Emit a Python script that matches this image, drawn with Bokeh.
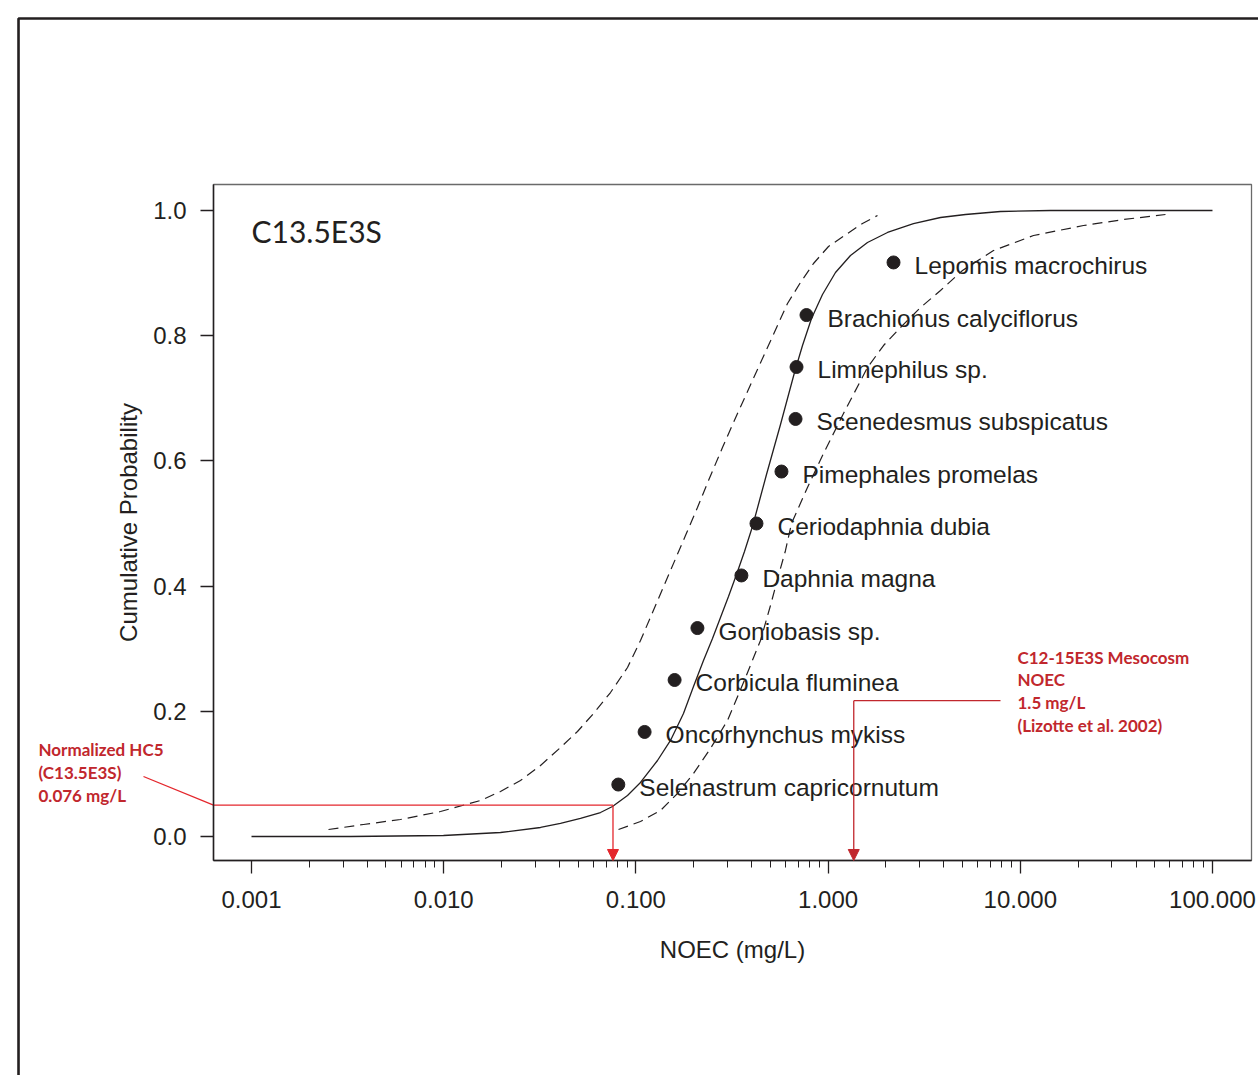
from bokeh.plotting import figure
from bokeh.models import (ColumnDataSource, FixedTicker, NumeralTickFormatter, Label,
                          Arrow, NormalHead, BoxAnnotation, Range1d)
from bokeh.embed import file_html
from bokeh.resources import INLINE
from bokeh.core.properties import value

# ---------------- data ----------------
species = ["Selenastrum capricornutum", "Oncorhynchus mykiss", "Corbicula fluminea",
           "Goniobasis sp.", "Daphnia magna", "Ceriodaphnia dubia", "Pimephales promelas",
           "Scenedesmus subspicatus", "Limnephilus sp.", "Brachionus calyciflorus",
           "Lepomis macrochirus"]
noec = [0.081, 0.111, 0.159, 0.209, 0.354, 0.424, 0.572, 0.677, 0.685, 0.772, 2.19]
cum_prob = [0.083, 0.167, 0.250, 0.333, 0.417, 0.500, 0.583, 0.667, 0.750, 0.833, 0.917]

# fitted distribution (solid)
fit_x = [0.001, 0.003274, 0.009976, 0.019745, 0.031889, 0.040518, 0.051493, 0.06543,
         0.07554, 0.090436, 0.10567, 0.12955, 0.15136, 0.17684, 0.19939, 0.22473,
         0.25036, 0.27553, 0.30325, 0.33375, 0.36731, 0.40423, 0.43962, 0.47807,
         0.51988, 0.56549, 0.61488, 0.66862, 0.73597, 0.81973, 0.93511, 1.0927, 1.3077,
         1.6032, 2.0377, 2.7814, 3.8446, 5.1864, 7.8866, 14.362, 26.148, 100.0]
fit_y = [0.0, 0.0, 0.0016, 0.0064, 0.0144, 0.0208, 0.0288, 0.0383, 0.0479, 0.0655,
         0.0863, 0.1214, 0.1534, 0.1965, 0.2396, 0.2812, 0.3163, 0.3498, 0.3834, 0.4185,
         0.4553, 0.4952, 0.5367, 0.5783, 0.6182, 0.6581, 0.6997, 0.7412, 0.7843, 0.8275,
         0.8658, 0.9010, 0.9281, 0.9489, 0.9649, 0.9792, 0.9888, 0.9936, 0.9984, 1.0,
         1.0, 1.0]

# lower (left) confidence curve
lower_x = [0.0025155, 0.0038262, 0.0059617, 0.0096239, 0.015539, 0.019745, 0.025095,
           0.031889, 0.040518, 0.049675, 0.060172, 0.073774, 0.090439, 0.10567, 0.12648,
           0.15136, 0.18113, 0.20914, 0.23861, 0.28216, 0.33778, 0.40423, 0.48384,
           0.54539, 0.61488, 0.71844, 0.83956, 1.0048, 1.2615, 1.5100, 1.8070]
lower_y = [0.0112, 0.0192, 0.0272, 0.0399, 0.0575, 0.0719, 0.0895, 0.1134, 0.1422, 0.1677,
           0.1965, 0.2300, 0.2700, 0.3131, 0.3690, 0.4249, 0.4808, 0.5256, 0.5687, 0.6214,
           0.6757, 0.7284, 0.7812, 0.8163, 0.8514, 0.8850, 0.9153, 0.9425, 0.9633, 0.9792,
           0.9920]

# upper (right) confidence curve
upper_x = [0.081191, 0.10567, 0.13428, 0.1646, 0.19941, 0.2444, 0.29964, 0.36293, 0.44485,
           0.50153, 0.55197, 0.60032, 0.64505, 0.78115, 0.94641, 1.2025, 1.6032, 1.9425,
           2.3804, 3.0253, 3.8446, 5.0031, 7.254, 11.717, 21.321, 34.422, 56.949]
upper_y = [0.0112, 0.0240, 0.0415, 0.0687, 0.1006, 0.1406, 0.1853, 0.2460, 0.3131, 0.3690,
           0.4169, 0.4569, 0.5000, 0.5575, 0.6118, 0.6757, 0.7492, 0.7843, 0.8131, 0.8450,
           0.8722, 0.9042, 0.9361, 0.9601, 0.9760, 0.9856, 0.9936]

x_ticks = [0.001, 0.01, 0.1, 1.0, 10.0, 100.0]
y_ticks = [0.0, 0.2, 0.4, 0.6, 0.8, 1.0]

hc5_value = 0.076
hc5_prob = 0.05
mesocosm_x = 1.36      # where the arrow is drawn in the figure
mesocosm_y = 0.217
mesocosm_line_end = 7.89

title_text = "C13.5E3S"
hc5_text = "Normalized HC5\n(C13.5E3S)\n0.076 mg/L"
meso_text = "C12-15E3S Mesocosm\nNOEC\n1.5 mg/L\n(Lizotte et al. 2002)"

# ---------------- layout (data units of the page area) ----------------
PAGE_X = (4.9435e-5, 173.55)       # whole canvas, log x
PAGE_Y = (-0.38179, 1.33546)       # whole canvas, y
BOX_X = (6.3424e-4, 159.6)         # plotting box
BOX_Y = (-0.038339, 1.041534)
FRAME_X, FRAME_Y = 6.1343e-5, 1.30671   # outer figure frame corner
HC5_LEADER = (2.7411e-4, 0.09585)
HC5_TEXT_POS = (7.7938e-5, 0.155)
MESO_TEXT_POS = (9.67, 0.3035)
TITLE_POS = (0.001, 0.968)

INK = "#231f20"
RED = "#e4262c"
DARKRED = "#c1272d"
SANS = "Liberation Sans"

p = figure(x_axis_type="log", x_range=Range1d(*PAGE_X), y_range=Range1d(*PAGE_Y),
           frame_width=1258, frame_height=1075,
           min_border_left=0, min_border_right=0, min_border_top=0, min_border_bottom=0,
           output_backend="svg", toolbar_location=None, background_fill_color="white",
           border_fill_color="white")
p.xgrid.visible = False
p.ygrid.visible = False
p.outline_line_color = None

minor = [m * d for d in [0.001, 0.01, 0.1, 1.0, 10.0] for m in range(2, 10)]
p.xaxis.ticker = FixedTicker(ticks=x_ticks, minor_ticks=minor)
p.xaxis.formatter = NumeralTickFormatter(format="0.000")
p.yaxis.ticker = FixedTicker(ticks=y_ticks)
p.yaxis.formatter = NumeralTickFormatter(format="0.0")
p.xaxis.fixed_location = BOX_Y[0]
p.yaxis.fixed_location = BOX_X[0]
p.xaxis.bounds = BOX_X
p.yaxis.bounds = BOX_Y

for ax in (p.xaxis[0], p.yaxis[0]):
    ax.axis_line_color = INK
    ax.axis_line_width = 1.5
    ax.major_tick_line_color = INK
    ax.major_tick_line_width = 1.3
    ax.minor_tick_line_color = INK
    ax.minor_tick_line_width = 1.0
    ax.major_tick_in = 0
    ax.major_tick_out = 13
    ax.minor_tick_in = 0
    ax.minor_tick_out = 7
    ax.major_label_text_font = SANS
    ax.major_label_text_font_size = "24px"
    ax.major_label_text_color = INK
    ax.axis_label_text_font = SANS
    ax.axis_label_text_font_size = "24px"
    ax.axis_label_text_font_style = "normal"
    ax.axis_label_text_color = INK

p.xaxis.axis_label = "NOEC (mg/L)"
p.yaxis.axis_label = "Cumulative Probability"
p.xaxis.major_label_standoff = 18
p.yaxis.major_label_standoff = 14
p.xaxis.axis_label_standoff = 24
p.yaxis.axis_label_standoff = 8

# outer figure frame and plotting box outline (top / right)
p.add_layout(BoxAnnotation(left=FRAME_X, top=FRAME_Y, right=1e6, bottom=-10.0,
                           fill_alpha=0, line_color=INK, line_alpha=1.0, line_width=2.6,
                           level="underlay"))
p.add_layout(BoxAnnotation(left=BOX_X[0], right=BOX_X[1], bottom=BOX_Y[0], top=BOX_Y[1],
                           fill_alpha=0, line_color="#6a6a6a", line_alpha=1.0,
                           line_width=1.3, level="underlay"))

# curves
p.line(fit_x, fit_y, line_color=INK, line_width=1.3)
p.line(lower_x, lower_y, line_color=INK, line_width=1.2, line_dash="10 6")
p.line(upper_x, upper_y, line_color=INK, line_width=1.2, line_dash="10 6")

# points + labels
src = ColumnDataSource(dict(x=noec, y=cum_prob, name=species))
p.scatter("x", "y", source=src, size=13, fill_color=INK, line_color=INK)
p.text("x", "y", text="name", source=src, x_offset=21, y_offset=3,
       text_font=value(SANS), text_font_size=value("24.5px"), text_color=INK,
       text_baseline="middle", text_align="left")

# title inside plot
p.add_layout(Label(x=TITLE_POS[0], y=TITLE_POS[1], text=title_text, text_font="Lato",
                   text_font_size="30px", text_color=INK, text_baseline="middle"))

# HC5 marker
p.line([BOX_X[0], hc5_value], [hc5_prob, hc5_prob], line_color=RED, line_width=1.3)
p.line([HC5_LEADER[0], BOX_X[0]], [HC5_LEADER[1], hc5_prob], line_color=RED, line_width=1.3)
p.add_layout(Arrow(x_start=hc5_value, y_start=hc5_prob, x_end=hc5_value, y_end=BOX_Y[0],
                   line_color=RED, line_width=1.3,
                   end=NormalHead(size=11, fill_color=RED, line_color=RED)))
p.add_layout(Label(x=HC5_TEXT_POS[0], y=HC5_TEXT_POS[1], text=hc5_text, text_font="Lato",
                   text_font_style="bold", text_font_size="17px", text_color=DARKRED,
                   text_baseline="top", text_line_height=1.08))

# Mesocosm marker
p.line([mesocosm_x, mesocosm_line_end], [mesocosm_y, mesocosm_y], line_color=DARKRED,
       line_width=1.3)
p.add_layout(Arrow(x_start=mesocosm_x, y_start=mesocosm_y, x_end=mesocosm_x, y_end=BOX_Y[0],
                   line_color=DARKRED, line_width=1.3,
                   end=NormalHead(size=11, fill_color=DARKRED, line_color=DARKRED)))
p.add_layout(Label(x=MESO_TEXT_POS[0], y=MESO_TEXT_POS[1], text=meso_text, text_font="Lato",
                   text_font_style="bold", text_font_size="17px", text_color=DARKRED,
                   text_baseline="top", text_line_height=1.08))

open("out.html", "w").write(file_html(p, INLINE))
